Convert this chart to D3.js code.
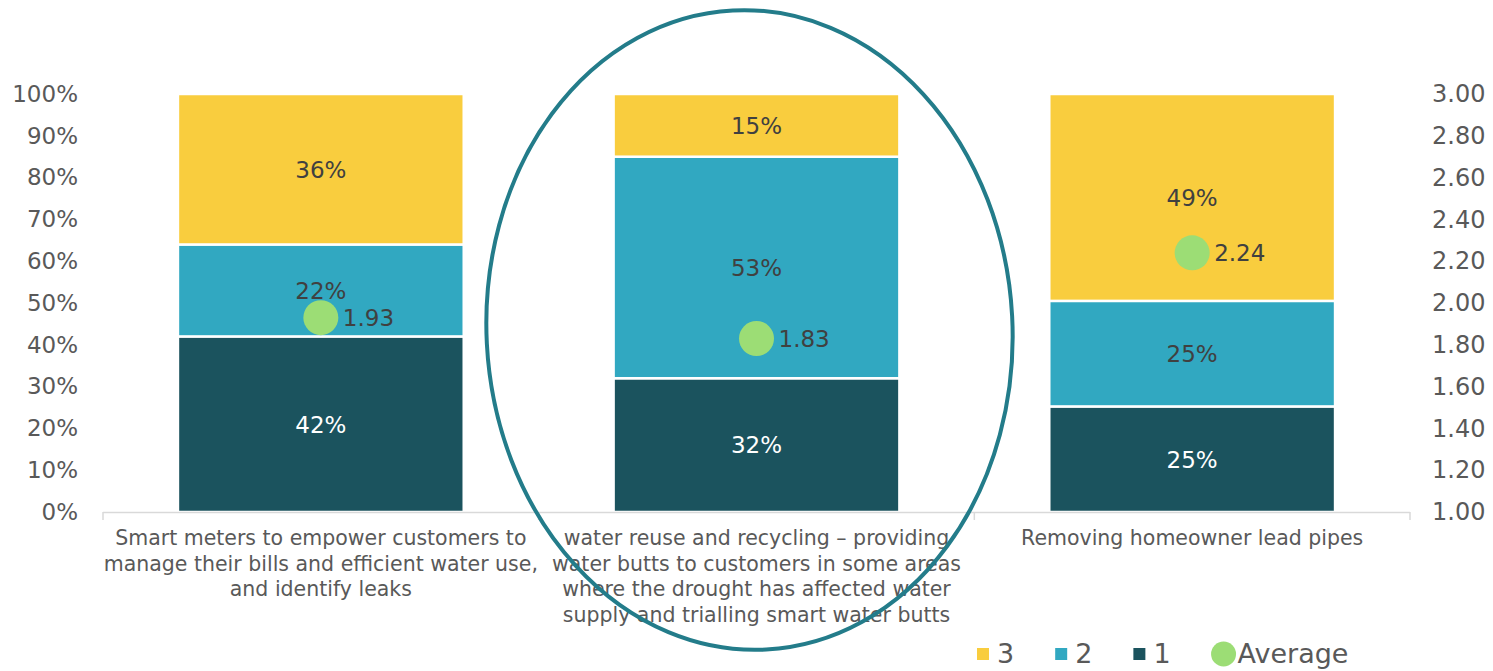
<!DOCTYPE html>
<html>
<head>
<meta charset="utf-8">
<script src="https://cdn.jsdelivr.net/npm/d3@7"></script>
<style>
  html, body { margin: 0; padding: 0; background: #ffffff; }
  svg { display: block; font-family: "Century Gothic", "DejaVu Sans", sans-serif; }
</style>
</head>
<body>
<svg id="chart" width="1493" height="671"></svg>
<script>
// Categories, each split into the lines it is printed on
const categories = ["smart", "reuse", "lead"];
const categoryLines = [
  ["Smart meters to empower customers to", "manage their bills and efficient water use,", "and identify leaks"],
  ["water reuse and recycling \u2013 providing", "water butts to customers in some areas", "where the drought has affected water", "supply and trialling smart water butts"],
  ["Removing homeowner lead pipes"]
];

// Share of respondents giving each score (percent)
const score1 = [42, 32, 25];
const score2 = [22, 53, 25];
const score3 = [36, 15, 49];

// Average score per option (right axis, 1 to 3)
const averages = [1.93, 1.83, 2.24];

// Axis ticks
const pctTicks = [0, 0.1, 0.2, 0.3, 0.4, 0.5, 0.6, 0.7, 0.8, 0.9, 1.0];
const avgTicks = [1.0, 1.2, 1.4, 1.6, 1.8, 2.0, 2.2, 2.4, 2.6, 2.8, 3.0];

const seriesKeys = ["s1", "s2", "s3"];
const seriesNames = { s1: "1", s2: "2", s3: "3" };
const colors = { s1: "#1b535e", s2: "#31a8c1", s3: "#f9cd3e" };
const avgColor = "#9cdd75";
const textGray = "#595959";
const labelGray = "#404040";

const svg = d3.select("#chart");
const plotLeft = 103, plotRight = 1410, plotTop = 94, plotBottom = 512;

const rows = categories.map((c, i) => ({ cat: c, s1: score1[i], s2: score2[i], s3: score3[i] }));
const stacked = d3.stack().keys(seriesKeys).offset(d3.stackOffsetExpand)(rows);

const x = d3.scaleBand().domain(categories).range([plotLeft, plotRight])
  .paddingInner(0.344).paddingOuter(0.172);
const y = d3.scaleLinear().domain([0, 1]).range([plotBottom, plotTop]);
const yAvg = d3.scaleLinear().domain([1, 3]).range([plotBottom, plotTop]);

// Left axis (percent)
const leftAxis = svg.append("g").attr("transform", `translate(${plotLeft},0)`)
  .call(d3.axisLeft(y).tickValues(pctTicks).tickFormat(d3.format(".0%")).tickSize(0).tickPadding(25));
leftAxis.select(".domain").remove();
leftAxis.selectAll("text").attr("fill", textGray).style("font-size", "23px")
  .style("font-family", "'Century Gothic','DejaVu Sans',sans-serif");

// Right axis (average score)
const rightAxis = svg.append("g").attr("transform", `translate(${plotRight},0)`)
  .call(d3.axisRight(yAvg).tickValues(avgTicks).tickFormat(d3.format(".2f")).tickSize(0).tickPadding(22));
rightAxis.select(".domain").remove();
rightAxis.selectAll("text").attr("fill", textGray).style("font-size", "24px")
  .style("font-family", "'Century Gothic','DejaVu Sans',sans-serif");

// Stacked bars
const layers = svg.append("g").selectAll("g").data(stacked).join("g")
  .attr("fill", d => colors[d.key]);
layers.selectAll("rect").data(d => d.map(v => ({ v, key: d.key }))).join("rect")
  .attr("x", d => x(d.v.data.cat))
  .attr("width", x.bandwidth())
  .attr("y", d => y(d.v[1]))
  .attr("height", d => y(d.v[0]) - y(d.v[1]))
  .attr("stroke", "#ffffff")
  .attr("stroke-width", 2.5);

// Segment value labels
stacked.forEach(layer => {
  svg.append("g").selectAll("text").data(layer).join("text")
    .attr("x", d => x(d.data.cat) + x.bandwidth() / 2)
    .attr("y", d => y((d[0] + d[1]) / 2))
    .attr("dy", "0.36em")
    .attr("text-anchor", "middle")
    .attr("fill", layer.key === "s1" ? "#ffffff" : labelGray)
    .style("font-size", "23px")
    .text(d => d.data[layer.key] + "%");
});

// Category axis line with dividers
const axisG = svg.append("g");
axisG.append("line").attr("x1", plotLeft).attr("x2", plotRight)
  .attr("y1", plotBottom + 0.5).attr("y2", plotBottom + 0.5)
  .attr("stroke", "#d9d9d9").attr("stroke-width", 1.5);
const dividers = d3.range(categories.length + 1).map(i => plotLeft + i * x.step());
axisG.selectAll("line.tick").data(dividers).join("line").attr("class", "tick")
  .attr("x1", d => d).attr("x2", d => d).attr("y1", plotBottom).attr("y2", plotBottom + 8)
  .attr("stroke", "#d9d9d9").attr("stroke-width", 1.5);

// Category labels
categories.forEach((c, i) => {
  const cx = x(c) + x.bandwidth() / 2;
  const t = svg.append("text")
    .attr("x", cx)
    .attr("y", 545)
    .attr("text-anchor", "middle")
    .attr("fill", textGray)
    .style("font-size", "20.5px");
  categoryLines[i].forEach((line, j) => {
    t.append("tspan").attr("x", cx).attr("dy", j === 0 ? 0 : 25.7).text(line);
  });
});

// Average markers
const avgG = svg.append("g");
avgG.selectAll("circle").data(averages).join("circle")
  .attr("cx", (d, i) => x(categories[i]) + x.bandwidth() / 2)
  .attr("cy", d => yAvg(d))
  .attr("r", 17.5)
  .attr("fill", avgColor);
avgG.selectAll("text").data(averages).join("text")
  .attr("x", (d, i) => x(categories[i]) + x.bandwidth() / 2 + 22)
  .attr("y", d => yAvg(d))
  .attr("dy", "0.36em")
  .attr("fill", labelGray)
  .style("font-size", "23px")
  .text(d => d3.format(".2f")(d));

// Legend
const legendItems = ["s3", "s2", "s1", "avg"];
const legend = svg.append("g").attr("transform", "translate(977,663)");
let lx = 0;
legendItems.forEach(k => {
  const g = legend.append("g").attr("transform", `translate(${lx},0)`);
  let textX;
  if (k === "avg") {
    g.append("circle").attr("cx", 12).attr("cy", -9).attr("r", 12.5).attr("fill", avgColor);
    textX = 26;
  } else {
    g.append("rect").attr("x", 0).attr("y", -15).attr("width", 12).attr("height", 12).attr("fill", colors[k]);
    textX = 20;
  }
  const t = g.append("text").attr("x", textX).attr("y", 0).attr("fill", textGray)
    .style("font-size", "27px").text(k === "avg" ? "Average" : seriesNames[k]);
  lx += textX + t.node().getComputedTextLength() + 41;
});

// Highlight ring around the middle option
const mid = x(categories[1]) + x.bandwidth() / 2;
svg.append("ellipse")
  .attr("cx", mid - 7).attr("cy", 330)
  .attr("rx", 263).attr("ry", 320)
  .attr("transform", `rotate(-3,${mid - 7},330)`)
  .attr("fill", "none")
  .attr("stroke", "#237c8a")
  .attr("stroke-width", 4);
</script>
</body>
</html>
